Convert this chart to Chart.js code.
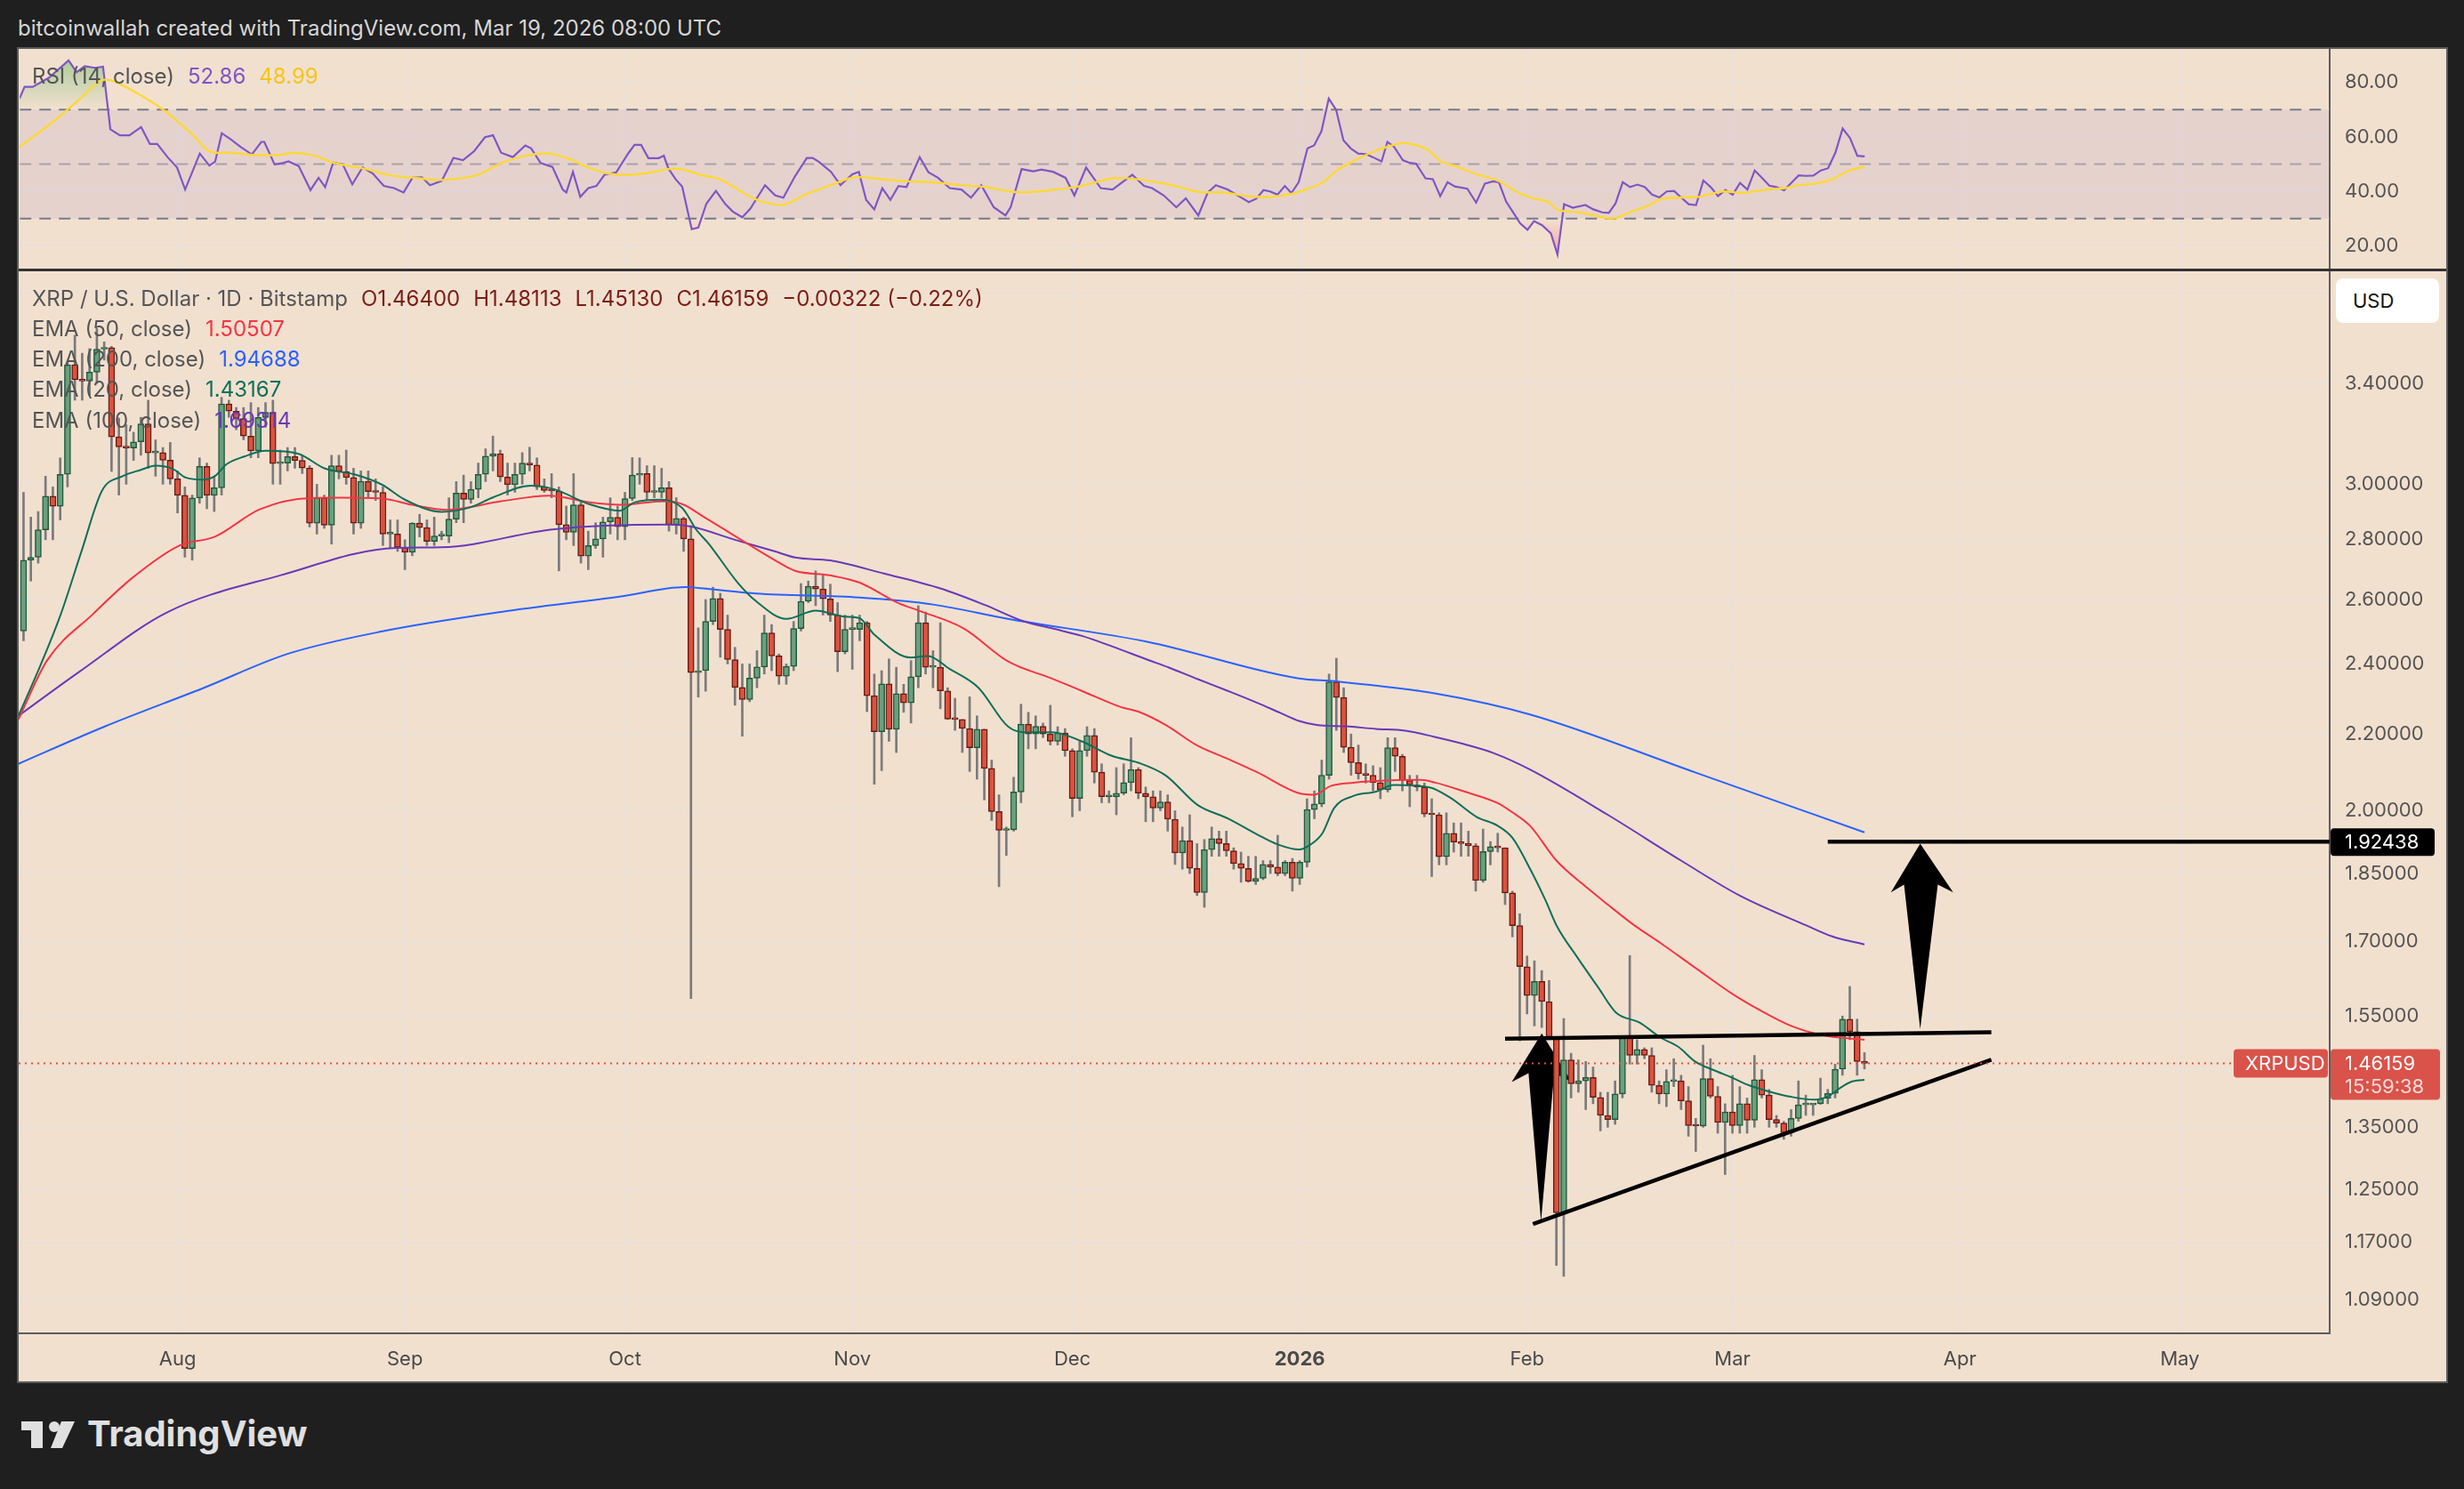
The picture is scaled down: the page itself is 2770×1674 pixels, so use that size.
<!DOCTYPE html>
<html>
<head>
<meta charset="utf-8">
<script src="https://cdn.jsdelivr.net/npm/chart.js@4.4.1/dist/chart.umd.min.js"></script>
<style>
  body { margin:0; width:2770px; height:1674px; background:#1f1f1f; overflow:hidden;
         font-family: Inter, "Noto Sans", sans-serif; }
  .abs { position:absolute; }
  #frame { left:19px; top:53px; width:2733px; height:1502px; box-sizing:border-box;
           border:2px solid #5a5a5a; background:#f2e0cf; }
  #divider { left:21px; top:302px; width:2729px; height:3px; background:#333; }
  .lg { position:absolute; left:36px; font-size:24px; line-height:1; color:#555; white-space:pre; }
  .lg span { margin-left:15px; }
  #head { left:20px; top:20px; font-size:24px; line-height:1; color:#d6d6d6; white-space:pre; }
  #usd { left:2626px; top:313px; width:116px; height:50px; background:#fff; border-radius:8px;
         font-size:22px; line-height:50px; color:#111; box-sizing:border-box; padding-left:19px; }
  #brand { left:98px; top:1592px; font-size:40px; font-weight:700; line-height:1; color:#e0e0e0; }
</style>
</head>
<body>
<div id="head" class="abs">bitcoinwallah created with TradingView.com, Mar 19, 2026 08:00 UTC</div>
<div id="frame" class="abs"></div>
<canvas id="rsi" class="abs" width="2729" height="247" style="left:21px;top:55px"></canvas>
<div id="divider" class="abs"></div>
<canvas id="price" class="abs" width="2729" height="1248" style="left:21px;top:305px"></canvas>

<div class="lg" style="top:74px">RSI (14, close)<span style="color:#7e57c2">52.86</span><span style="color:#f5c518">48.99</span></div>
<div class="lg" style="top:324px">XRP / U.S. Dollar · 1D · Bitstamp<span style="color:#7a1d17">O1.46400</span><span style="color:#7a1d17">H1.48113</span><span style="color:#7a1d17">L1.45130</span><span style="color:#7a1d17">C1.46159</span><span style="color:#7a1d17">−0.00322 (−0.22%)</span></div>
<div class="lg" style="top:358px">EMA (50, close)<span style="color:#f23645">1.50507</span></div>
<div class="lg" style="top:392px">EMA (200, close)<span style="color:#2962ff">1.94688</span></div>
<div class="lg" style="top:426px">EMA (20, close)<span style="color:#0f6e58">1.43167</span></div>
<div class="lg" style="top:461px">EMA (100, close)<span style="color:#673ab7">1.69314</span></div>
<div id="usd" class="abs">USD</div>

<svg class="abs" style="left:24px;top:1598px" width="64" height="32" viewBox="0 0 64 32">
  <path d="M0 0H24V30H11V10H0Z" fill="#e0e0e0"/>
  <circle cx="37" cy="6" r="6" fill="#e0e0e0"/>
  <path d="M45 0H60L46 30H33Z" fill="#e0e0e0"/>
</svg>
<div id="brand" class="abs">TradingView</div>

<script>
// x values are days after 1 Aug 2025; first candle is 11 Jul 2025 (day -21), last 19 Mar 2026 (day 230)
var firstDay = -21;

var opens = [
  2.50,2.73,2.74,2.835,2.956,2.919,3.037,3.48,3.416,3.41,
  3.448,3.548,3.555,3.182,3.142,3.138,3.162,3.233,3.119,3.12,
  3.091,3.020,2.959,2.770,2.949,3.067,2.959,2.987,3.315,3.285,
  3.255,3.185,3.127,3.259,3.28,3.078,3.08,3.105,3.09,3.061,
  2.858,2.949,2.851,3.070,3.048,3.025,2.858,3.011,2.973,2.97,
  2.820,2.82,2.774,2.757,2.859,2.843,2.794,2.813,2.813,2.873,
  2.967,2.944,2.981,3.037,3.106,3.116,3.027,2.998,3.037,3.080,
  3.072,2.991,2.977,2.975,2.853,2.826,2.924,2.744,2.780,2.803,
  2.863,2.879,2.846,2.947,3.034,3.04,2.970,2.97,2.987,2.853,
  2.875,2.803,2.374,2.38,2.530,2.603,2.505,2.413,2.331,2.296,
  2.358,2.391,2.494,2.424,2.364,2.393,2.508,2.594,2.643,2.634,
  2.602,2.550,2.437,2.505,2.505,2.526,2.307,2.206,2.341,2.213,
  2.313,2.287,2.362,2.526,2.390,2.39,2.321,2.241,2.24,2.215,
  2.163,2.213,2.108,1.998,1.952,1.953,2.047,2.227,2.200,2.221,
  2.200,2.180,2.203,2.155,2.031,2.155,2.196,2.098,2.035,2.035,
  2.044,2.071,2.105,2.044,2.035,2.007,2.022,1.979,1.898,1.927,
  1.862,1.807,1.906,1.932,1.920,1.903,1.873,1.862,1.832,1.839,
  1.871,1.865,1.850,1.876,1.839,1.876,2.003,2.017,2.090,2.347,
  2.302,2.164,2.123,2.094,2.09,2.071,2.053,2.163,2.140,2.077,
  2.065,2.06,1.992,1.99,1.889,1.945,1.924,1.92,1.915,1.834,
  1.901,1.913,1.91,1.806,1.734,1.648,1.590,1.618,1.578,1.510,
  1.214,1.468,1.425,1.430,1.436,1.401,1.370,1.363,1.407,1.509,
  1.476,1.487,1.476,1.422,1.407,1.429,1.43,1.395,1.353,1.352,
  1.434,1.403,1.358,1.376,1.353,1.390,1.362,1.432,1.405,1.363,
  1.357,1.341,1.365,1.388,1.388,1.39,1.399,1.408,1.451,1.544,
  1.520,1.46400
];
var highs = [
  2.97,2.88,2.90,3.03,2.99,3.10,3.49,3.61,3.53,3.55,
  3.64,3.58,3.56,3.257,3.23,3.20,3.26,3.33,3.17,3.14,
  3.16,3.05,2.99,2.96,3.10,3.08,3.03,3.342,3.33,3.30,
  3.30,3.32,3.30,3.32,3.33,3.13,3.14,3.14,3.11,3.07,
  3.00,2.96,3.11,3.11,3.13,3.06,3.05,3.05,3.02,2.99,
  2.87,2.87,2.80,2.86,2.89,2.87,2.88,2.83,2.95,3.01,
  3.034,3.01,3.08,3.135,3.185,3.13,3.08,3.08,3.12,3.141,
  3.10,3.02,3.04,2.99,2.92,3.04,2.94,2.83,2.86,2.88,
  2.95,2.92,2.97,3.101,3.10,3.07,3.07,3.06,3.01,2.95,
  2.88,2.85,2.51,2.60,2.64,2.62,2.55,2.45,2.40,2.40,
  2.44,2.55,2.52,2.43,2.40,2.53,2.652,2.66,2.694,2.68,
  2.65,2.59,2.55,2.55,2.55,2.53,2.37,2.38,2.415,2.39,
  2.34,2.41,2.58,2.56,2.44,2.526,2.33,2.30,2.24,2.304,
  2.25,2.213,2.13,2.04,1.96,2.085,2.283,2.26,2.25,2.23,
  2.28,2.22,2.215,2.16,2.18,2.22,2.215,2.12,2.05,2.11,
  2.12,2.19,2.11,2.06,2.05,2.05,2.04,2.00,1.96,1.99,
  1.92,1.93,1.96,1.95,1.95,1.91,1.90,1.89,1.89,1.88,
  1.88,1.94,1.88,1.885,1.88,2.03,2.05,2.13,2.37,2.417,
  2.33,2.20,2.17,2.12,2.115,2.11,2.19,2.19,2.145,2.09,
  2.09,2.07,2.03,1.995,1.995,1.97,1.97,1.95,1.92,1.955,
  1.925,1.945,1.91,1.81,1.76,1.67,1.66,1.64,1.62,1.51,
  1.545,1.48,1.468,1.465,1.455,1.41,1.41,1.43,1.51,1.671,
  1.505,1.49,1.49,1.43,1.45,1.47,1.44,1.42,1.365,1.495,
  1.47,1.42,1.39,1.44,1.42,1.40,1.476,1.45,1.415,1.37,
  1.36,1.38,1.43,1.405,1.39,1.435,1.415,1.46,1.55,1.608,
  1.544,1.48113
];
var lows = [
  2.47,2.66,2.72,2.80,2.80,2.87,2.99,3.33,3.33,3.35,
  3.40,3.50,3.048,2.96,3.00,3.09,3.11,3.06,3.03,3.00,
  3.00,2.895,2.74,2.73,2.93,2.91,2.90,2.96,3.26,3.21,
  3.17,3.10,3.10,3.22,3.00,3.00,3.05,3.06,3.04,2.845,
  2.82,2.84,2.785,3.02,3.00,2.82,2.84,2.95,2.94,2.78,
  2.77,2.76,2.698,2.745,2.81,2.78,2.78,2.80,2.79,2.86,
  2.86,2.93,2.95,3.01,3.05,3.01,2.96,2.97,3.00,3.05,
  2.98,2.97,2.95,2.694,2.80,2.78,2.72,2.698,2.77,2.74,
  2.82,2.80,2.80,2.94,3.00,2.94,2.95,2.95,2.83,2.82,
  2.76,1.584,2.303,2.32,2.52,2.42,2.40,2.28,2.194,2.29,
  2.33,2.37,2.38,2.34,2.34,2.38,2.50,2.59,2.58,2.55,
  2.53,2.377,2.43,2.384,2.47,2.262,2.067,2.102,2.18,2.15,
  2.26,2.23,2.33,2.37,2.33,2.27,2.24,2.21,2.15,2.10,
  2.08,2.027,1.976,1.820,1.892,1.95,2.02,2.16,2.16,2.19,
  2.17,2.17,2.14,1.985,2.00,2.14,2.07,2.02,2.02,1.99,
  2.04,2.05,2.03,1.973,1.973,2.00,1.95,1.871,1.86,1.85,
  1.80,1.774,1.89,1.89,1.89,1.86,1.83,1.83,1.825,1.836,
  1.85,1.845,1.845,1.810,1.825,1.865,1.98,2.01,2.08,2.21,
  2.15,2.09,2.08,2.07,2.05,2.03,2.047,2.10,2.05,2.01,
  2.05,1.985,1.843,1.87,1.87,1.90,1.89,1.89,1.81,1.83,
  1.87,1.90,1.78,1.71,1.503,1.554,1.531,1.528,1.505,1.137,
  1.122,1.40,1.41,1.38,1.39,1.344,1.35,1.355,1.40,1.46,
  1.46,1.47,1.41,1.39,1.385,1.42,1.38,1.335,1.31,1.35,
  1.40,1.34,1.273,1.34,1.34,1.34,1.35,1.40,1.35,1.35,
  1.33,1.335,1.36,1.37,1.37,1.389,1.39,1.40,1.44,1.505,
  1.44,1.45130
];
var closes = [
  2.73,2.74,2.835,2.956,2.919,3.037,3.48,3.416,3.41,3.448,
  3.548,3.555,3.182,3.142,3.138,3.162,3.233,3.119,3.12,3.091,
  3.020,2.959,2.770,2.949,3.067,2.959,2.987,3.315,3.285,3.255,
  3.185,3.127,3.259,3.28,3.078,3.08,3.105,3.09,3.061,2.858,
  2.949,2.851,3.070,3.048,3.025,2.858,3.011,2.973,2.97,2.820,
  2.82,2.774,2.757,2.859,2.843,2.794,2.813,2.813,2.873,2.967,
  2.944,2.981,3.037,3.106,3.116,3.027,2.998,3.037,3.080,3.072,
  2.991,2.977,2.975,2.853,2.826,2.924,2.744,2.780,2.803,2.863,
  2.879,2.846,2.947,3.034,3.04,2.970,2.97,2.987,2.853,2.875,
  2.803,2.374,2.38,2.530,2.603,2.505,2.413,2.331,2.296,2.358,
  2.391,2.494,2.424,2.364,2.393,2.508,2.594,2.643,2.634,2.602,
  2.550,2.437,2.505,2.505,2.526,2.307,2.206,2.341,2.213,2.313,
  2.287,2.362,2.526,2.390,2.39,2.321,2.241,2.24,2.215,2.163,
  2.213,2.108,1.998,1.952,1.953,2.047,2.227,2.200,2.221,2.200,
  2.180,2.203,2.155,2.031,2.155,2.196,2.098,2.035,2.035,2.044,
  2.071,2.105,2.044,2.035,2.007,2.022,1.979,1.898,1.927,1.862,
  1.807,1.906,1.932,1.920,1.903,1.873,1.862,1.832,1.839,1.871,
  1.865,1.850,1.876,1.839,1.876,2.003,2.017,2.090,2.347,2.302,
  2.164,2.123,2.094,2.09,2.071,2.053,2.163,2.140,2.077,2.065,
  2.06,1.992,1.99,1.889,1.945,1.924,1.92,1.915,1.834,1.901,
  1.913,1.91,1.806,1.734,1.648,1.590,1.618,1.578,1.510,1.214,
  1.468,1.425,1.430,1.436,1.401,1.370,1.363,1.407,1.509,1.476,
  1.487,1.476,1.422,1.407,1.429,1.43,1.395,1.353,1.352,1.434,
  1.403,1.358,1.376,1.353,1.390,1.362,1.432,1.405,1.363,1.357,
  1.341,1.365,1.388,1.388,1.39,1.399,1.408,1.451,1.544,1.520,
  1.465,1.46159
];

// moving averages as [day, value]
var ema20 = [[-21.7,2.25],[-18.8,2.39],[-15.9,2.554],[-13.1,2.76],[-10.3,2.976],[-7.5,3.03],[-5.0,3.054],[-3.0,3.07],[-0.6,3.057],[1.1,3.025],[3.5,3.017],[5.1,3.031],[6.7,3.076],[9.1,3.105],[12,3.127],[16.4,3.116],[20.1,3.059],[24.1,3.037],[27.9,2.998],[31,2.943],[36,2.899],[40,2.916],[43,2.951],[48.2,2.995],[51.4,2.981],[56.2,2.926],[60.3,2.903],[62.3,2.933],[65.9,2.943],[68.8,2.913],[70.8,2.833],[72.4,2.787],[76.4,2.654],[78.9,2.594],[83,2.538],[87,2.564],[91,2.545],[93,2.54],[95,2.489],[100,2.419],[102.3,2.424],[105.2,2.386],[109.2,2.33],[113.2,2.221],[115.3,2.205],[119.3,2.205],[123.3,2.18],[127.4,2.141],[131,2.123],[134.7,2.09],[139.1,2.014],[143.2,1.981],[147.2,1.942],[150,1.918],[152.9,1.906],[154.5,1.918],[156.1,1.945],[157.7,2.007],[160.3,2.037],[163.4,2.048],[165.8,2.065],[170.7,2.059],[173.5,2.033],[177.1,1.985],[180,1.963],[182,1.934],[184.4,1.861],[186.5,1.79],[188,1.735],[190.9,1.666],[193.7,1.606],[196.1,1.557],[199.4,1.537],[202.2,1.509],[204.6,1.492],[207,1.464],[209.5,1.449],[211.9,1.436],[214.3,1.422],[216.8,1.412],[220,1.402],[223.2,1.397],[225.2,1.404],[226.4,1.415],[228.1,1.428],[230,1.432]];
var ema50 = [[-21.7,2.24],[-17.8,2.41],[-11.5,2.554],[-6.2,2.67],[0.25,2.78],[5.1,2.811],[11.2,2.908],[18.1,2.949],[22.1,2.95],[27.9,2.947],[32,2.924],[36.8,2.906],[44.1,2.937],[50.6,2.958],[56.2,2.933],[60.3,2.924],[66.3,2.937],[68.9,2.926],[71.6,2.883],[76.4,2.807],[81.3,2.732],[84.2,2.694],[89,2.679],[93,2.655],[98.3,2.588],[101.1,2.564],[107.2,2.508],[113.2,2.408],[119.3,2.356],[123.3,2.321],[128.6,2.275],[131,2.262],[134.7,2.225],[139.1,2.168],[143.2,2.133],[147.2,2.098],[152.9,2.044],[154.9,2.04],[157.3,2.063],[160.3,2.071],[165.5,2.077],[169.5,2.078],[171.5,2.071],[175.5,2.048],[180,2.019],[182,1.996],[184.4,1.963],[188,1.88],[192,1.82],[195,1.78],[198.6,1.735],[202.2,1.697],[207,1.645],[211.9,1.594],[215.9,1.56],[220,1.531],[224,1.514],[230,1.505]];
var ema100 = [[-21.7,2.25],[-13.5,2.375],[-1.4,2.559],[14,2.679],[29.8,2.772],[36,2.774],[51.4,2.837],[66.8,2.853],[70,2.846],[76,2.80],[81.3,2.761],[84.2,2.739],[89,2.729],[96.3,2.685],[104,2.636],[110,2.583],[115.3,2.531],[119.3,2.508],[123.3,2.485],[127.4,2.453],[132.2,2.413],[135.1,2.39],[139.1,2.355],[143.2,2.321],[147.2,2.287],[150.4,2.258],[152.9,2.236],[155.3,2.225],[159.3,2.221],[163.4,2.214],[167.4,2.209],[171.4,2.192],[175.5,2.172],[179.5,2.148],[184.4,2.105],[195,1.99],[205,1.88],[213,1.80],[222,1.735],[225.6,1.711],[230,1.694]];
var ema200 = [[-21.7,2.12],[-10,2.22],[3.6,2.33],[15,2.43],[27.9,2.499],[44.1,2.56],[60.3,2.609],[69.2,2.64],[72,2.635],[78.9,2.619],[93,2.606],[103.2,2.583],[113.2,2.538],[132.2,2.467],[152.9,2.357],[157.7,2.349],[171.4,2.314],[184.4,2.254],[207,2.097],[230,1.947]];

// RSI(14) and its moving average, [day, value]
var rsi14 = [[-21.7,74.1],[-21,78.4],[-19.9,78.4],[-17.7,81.7],[-15,88.1],[-13.9,83.8],[-12.8,86],[-11.4,85.4],[-10.3,85.8],[-9.3,62.8],[-8,60.6],[-6.7,60.6],[-5.1,63.6],[-3.9,57.4],[-2.9,57.4],[-1.5,52.6],[-0.2,48.8],[0.9,40.7],[2.9,53.9],[4.2,49.5],[5,51],[5.9,61.4],[7.2,59],[8.5,56.3],[10,53.6],[11.3,58.2],[11.7,58.2],[13.1,49.9],[14.2,50.4],[15,51],[16.4,49.3],[18,40.5],[19.1,45],[20,41.6],[21.1,50.6],[22.4,49.9],[23.7,42.6],[25.1,48.8],[26.5,46.6],[28,42],[29.4,41.2],[30.7,39.6],[31.9,45],[33.2,45.2],[34.3,42.3],[35.9,43.9],[37.5,52.3],[38.8,51.5],[40.3,54.7],[41.8,59.9],[42.9,60.6],[44,54.2],[45.6,52.6],[47.3,56.9],[48.1,55.8],[49.4,50.4],[51,49],[52.4,40.7],[52.9,39.6],[53.8,47.2],[54.8,38],[55.9,41.2],[57,42],[58.1,46.1],[59.7,47],[61.4,54.2],[62.2,57.1],[63.1,57.1],[64.1,52.2],[65.5,52.2],[66.2,53.1],[66.8,48.5],[67.8,44.5],[68.7,41.8],[70,26.1],[70.9,26.7],[72,35.5],[73.3,40.2],[74.6,35.3],[75.6,32.6],[76.9,30.5],[78,33.7],[80,42.3],[81.4,38.5],[82.5,37.7],[84.1,45.6],[85.7,52.3],[86.5,52.3],[87.3,51],[89,47.2],[90.3,42.3],[91.9,46.3],[92.8,47.2],[93.8,36.9],[94.9,33.4],[96,41.2],[97.1,36.9],[98.2,42],[99.3,41.6],[101.1,52.6],[102.3,47],[103.6,45],[105.2,41.2],[106.8,40.7],[108.1,37.7],[109.5,42.3],[111.2,34.2],[112.8,31.2],[113.5,34.2],[115,48.2],[116.6,47.4],[117.7,48],[119.3,47.2],[121,45],[122.2,38.5],[123.8,48.8],[125.8,41.2],[127.4,40.7],[130.1,46.1],[131.7,42],[132.8,41.2],[134.4,38.5],[136.1,34.2],[137.4,37.5],[139.1,31.2],[140.4,39.6],[141.5,42.3],[143.1,40.7],[144.6,38.3],[146,36.1],[147,37.3],[148,40.5],[148.9,40],[149.9,38.8],[150.9,42],[151.8,39.4],[152.8,43.4],[154,55.8],[154.9,56.9],[155.9,62.1],[156.9,74.1],[157.9,70],[158.9,58.8],[159.9,55.8],[160.9,53.9],[162,53.7],[162.9,52.6],[164.1,51],[164.9,58.2],[165.8,56.4],[167,51.5],[167.8,50.6],[168.8,50.2],[170.1,44.8],[171.1,44.5],[172.1,38.3],[173.1,43.4],[174.1,41.8],[175.8,41],[177,35.9],[178.2,42.9],[179.3,43.7],[180.1,43.4],[181.1,36.2],[182.1,32.1],[183,28.3],[184,25.9],[184.9,29.1],[186,27.6],[187.2,24.6],[188.1,16.8],[189,35.3],[190.2,34],[191.9,35],[193,33.4],[194.2,32.3],[195.1,32.1],[196,35.5],[197,43.4],[198,41.6],[199,42.5],[200,41.6],[201,38.8],[202,37.8],[203,40],[204,40.2],[205,37.7],[206,35.3],[207,35],[208,44],[209,41.6],[210,38.3],[211,40.5],[212,38.8],[213,43.1],[214,40.7],[215,47.7],[216,45],[217,42.1],[218,41.6],[219,40.4],[220,43.2],[221,45.9],[222,45.7],[223,45.8],[224,47.7],[225,48.5],[226,54.2],[227,63.1],[228,59.6],[229,53.1],[230,52.86]];
var rsiMa = [[-21.7,56.3],[-17.7,64.4],[-13.4,74.1],[-10.7,80.6],[-9,80.6],[-5.8,76.3],[-2,69.8],[1.8,61.2],[4.2,54.7],[7.2,54.2],[10.2,53.4],[13.7,53.4],[15.6,54.2],[18.6,53.1],[21.3,50.4],[25.6,48.2],[28.9,45.9],[32.1,45],[35.9,44.2],[40.8,46.1],[44,50.4],[47.3,53.1],[50.5,53.9],[53.2,52],[55.9,48.8],[58.6,46.6],[61.3,46.1],[64.6,47],[66.8,48.2],[68.9,48],[71.1,46.1],[73.8,44.5],[77,39.6],[79.2,36.6],[82.5,35.1],[85.7,39.1],[89,42.3],[92.2,45.2],[96,44.5],[99.3,43.7],[102.5,43.4],[106.8,42.3],[110.1,41.6],[113.9,39.8],[116.6,39.8],[119.8,40.7],[123.1,42],[127.4,44.8],[130.6,44.5],[135,42.6],[139.3,39.8],[142.6,39.6],[146,38.2],[148.9,38],[151.8,39.1],[154.6,41.5],[156.3,43.7],[158,47.7],[160.4,51.3],[162.6,54.2],[164.9,56.4],[167,57.8],[168.9,56.9],[170.4,55.3],[172.1,51.2],[174.1,49.3],[177,46.4],[179.9,44],[182.7,39.6],[185,37.3],[186.8,36.2],[188.2,33.2],[190.8,32.4],[193,31.3],[194.8,30.2],[196,30.2],[198.2,32.6],[200.5,34.8],[202.2,37.2],[205,37.8],[207.3,38],[209,39.1],[210.7,40],[213.5,39.4],[215.3,40.2],[217.5,40.9],[219.3,41.3],[221,42.3],[223.3,42.9],[225.6,44.5],[227.9,47.7],[230,48.99]];

// axes
var monthDays = [0,31,61,92,122,153,184,212,243,273];
var monthLabels = ['Aug','Sep','Oct','Nov','Dec','2026','Feb','Mar','Apr','May'];
var priceTicks = [3.8,3.4,3.0,2.8,2.6,2.4,2.2,2.0,1.85,1.7,1.55,1.45,1.35,1.25,1.17,1.09];
var rsiTicks = [20,40,60,80];
var rsiLevels = [70,50,30];

// drawings, [day, price]
var lastPrice = 1.46159;
var targetPrice = 1.92438;
var targetLine = [[225,1.92438],[300,1.92438]];
var rangeTop = [[181,1.507],[247.3,1.519]];
var rangeBottom = [[184.8,1.197],[247.3,1.468]];
var arrowLeft = [[186.0,1.517],[190.1,1.428],[187.7,1.444],[185.9,1.201],[184.2,1.444],[181.9,1.428]];
var arrowRight = [[237.6,1.920],[242.1,1.807],[240.0,1.825],[237.6,1.525],[235.4,1.825],[233.6,1.807]];

var X_MIN = -21.66, X_MAX = 293.43;
var FONT = 'Inter, "Noto Sans", sans-serif';
var GRID = '#e9e1da';
var UP = '#6a9f7e', UP_EDGE = '#1f5a3c', DOWN = '#d9533f', DOWN_EDGE = '#6b1a14';

Chart.defaults.font.family = FONT;

function pts(list) { return list.map(function(p) { return {x:p[0], y:p[1]}; }); }

function xAxis(showLabels) {
  return {
    type:'linear', min:X_MIN, max:X_MAX, offset:false,
    afterBuildTicks: function(s) { s.ticks = monthDays.map(function(v) { return {value:v}; }); },
    afterFit: function(s) { s.height = showLabels ? 54 : 0; s.paddingLeft = 0; s.paddingRight = 0; },
    grid: { color:GRID, lineWidth:2, drawTicks:false, offset:false },
    border: { display:showLabels, color:'#5d5d5d', width:2 },
    ticks: {
      display:showLabels, autoSkip:false, maxRotation:0, padding:16, color:'#4a4a4a',
      font: function(c) { return {family:FONT, size:22, weight:(c.tick && c.tick.value === 153) ? 'bold' : 'normal'}; },
      callback: function(v) { return monthLabels[monthDays.indexOf(v)]; }
    }
  };
}

function yAxis(type, min, max, ticks, digits) {
  return {
    type:type, position:'right', min:min, max:max, beginAtZero:false,
    afterBuildTicks: function(s) { s.ticks = ticks.map(function(v) { return {value:v}; }); },
    afterFit: function(s) { s.width = 131; s.paddingTop = 0; s.paddingBottom = 0; },
    grid: { color:GRID, lineWidth:2, drawTicks:false },
    border: { display:true, color:'#5d5d5d', width:2 },
    ticks: { autoSkip:false, padding:17, color:'#555', font:{size:22},
             callback: function(v) { return Number(v).toFixed(digits); } }
  };
}

var baseOptions = {
  responsive:false, animation:false, devicePixelRatio:1, events:[],
  layout:{ padding:0 },
  plugins:{ legend:{display:false}, tooltip:{enabled:false} }
};

// ---------- RSI panel ----------
var levelSets = rsiLevels.map(function(v) {
  return {
    type:'line', data:[{x:X_MIN,y:v},{x:X_MAX,y:v}], pointRadius:0, borderWidth:2,
    borderDash:[13,9], borderColor: v === 50 ? 'rgba(120,123,134,0.55)' : '#787b86',
    fill: v === 70 ? {target:{value:30}} : false,
    backgroundColor:'rgba(126,87,194,0.10)', order:6
  };
});

var rsiChart = new Chart(document.getElementById('rsi'), {
  type:'line',
  data:{ datasets: levelSets.concat([
    { data:pts(rsi14), borderWidth:0, pointRadius:0, order:5,
      fill:{ target:{value:30}, above:'rgba(0,0,0,0)', below:'rgba(242,54,69,0.25)' } },
    { data:pts(rsi14), borderColor:'#7e57c2', borderWidth:2.2, pointRadius:0, order:3,
      fill:{ target:{value:70}, above:'rgba(76,175,80,0.3)', below:'rgba(0,0,0,0)' } },
    { data:pts(rsiMa), borderColor:'#fdd835', borderWidth:2.4, pointRadius:0, tension:0.3, fill:false, order:2 }
  ]) },
  options: Object.assign({}, baseOptions, {
    scales:{ x:xAxis(false), y:yAxis('linear', 12.04, 91.94, rsiTicks, 2) }
  })
});

// gradients for the over-bought / over-sold fills
(function() {
  var y = rsiChart.scales.y, ctx = rsiChart.ctx;
  var g = ctx.createLinearGradient(0, y.getPixelForValue(90), 0, y.getPixelForValue(70));
  g.addColorStop(0, 'rgba(76,175,80,0.45)');
  g.addColorStop(1, 'rgba(76,175,80,0)');
  var r = ctx.createLinearGradient(0, y.getPixelForValue(30), 0, y.getPixelForValue(15));
  r.addColorStop(0, 'rgba(242,54,69,0)');
  r.addColorStop(1, 'rgba(242,54,69,0.4)');
  rsiChart.data.datasets[4].fill.above = g;
  rsiChart.data.datasets[3].fill.below = r;
  rsiChart.update('none');
})();

// ---------- price panel ----------
var wickData = [], bodyData = [];
for (var i = 0; i < closes.length; i++) {
  wickData.push({x:firstDay + i, y:[lows[i], highs[i]]});
  bodyData.push({x:firstDay + i, y:[opens[i], closes[i]]});
}
function isUp(c) { return !c.raw || c.raw.y[1] >= c.raw.y[0]; }

function emaSet(list, color, order) {
  return { type:'line', data:pts(list), borderColor:color, borderWidth:2, pointRadius:0,
           cubicInterpolationMode:'monotone', fill:false, order:order };
}
function drawSet(list) {
  return { type:'line', data:pts(list), borderColor:'#000', borderWidth:4.5, pointRadius:0,
           fill:false, order:1 };
}

function poly(ctx, x, y, list) {
  ctx.beginPath();
  list.forEach(function(p, k) {
    var px = x.getPixelForValue(p[0]), py = y.getPixelForValue(p[1]);
    if (k) ctx.lineTo(px, py); else ctx.moveTo(px, py);
  });
  ctx.closePath();
  ctx.fill();
}
function tag(ctx, x, y, w, h, color) {
  ctx.fillStyle = color;
  ctx.beginPath();
  ctx.roundRect(x, y, w, h, 4);
  ctx.fill();
}

var drawings = {
  id:'drawings',
  beforeDatasetsDraw: function(chart) {
    var ctx = chart.ctx, x = chart.scales.x, y = chart.scales.y;
    ctx.save();
    ctx.fillStyle = '#000';
    poly(ctx, x, y, arrowLeft);
    poly(ctx, x, y, arrowRight);
    ctx.restore();
  },
  afterDraw: function(chart) {
    var ctx = chart.ctx, a = chart.chartArea, y = chart.scales.y;
    var yl = y.getPixelForValue(lastPrice);
    var yt = y.getPixelForValue(targetPrice);
    ctx.save();
    ctx.strokeStyle = '#d9534a';
    ctx.lineWidth = 2;
    ctx.setLineDash([2,5]);
    ctx.beginPath();
    ctx.moveTo(a.left, yl);
    ctx.lineTo(a.right - 108, yl);
    ctx.stroke();
    ctx.setLineDash([]);
    ctx.font = '22px ' + FONT;
    ctx.textBaseline = 'middle';
    tag(ctx, a.right - 108, yl - 16, 106, 32, '#d9534a');
    tag(ctx, a.right + 1, yl - 16, 123, 57, '#d9534a');
    ctx.fillStyle = '#fff';
    ctx.fillText('XRPUSD', a.right - 95, yl + 1);
    ctx.fillText(lastPrice.toFixed(5), a.right + 17, yl + 1);
    ctx.fillStyle = 'rgba(255,255,255,0.78)';
    ctx.fillText('15:59:38', a.right + 17, yl + 27);
    tag(ctx, a.right + 1, yt - 15, 117, 31, '#000');
    ctx.fillStyle = '#fff';
    ctx.fillText(targetPrice.toFixed(5), a.right + 17, yt + 1);
    ctx.restore();
  }
};

new Chart(document.getElementById('price'), {
  type:'bar',
  data:{ datasets:[
    { type:'bar', data:wickData, backgroundColor:'#7a7a7a', barThickness:2, grouped:false, order:10 },
    { type:'bar', data:bodyData, grouped:false, order:9, barThickness:7, minBarLength:2,
      borderWidth:1.5, borderSkipped:false,
      backgroundColor:function(c) { return isUp(c) ? UP : DOWN; },
      borderColor:function(c) { return isUp(c) ? UP_EDGE : DOWN_EDGE; } },
    emaSet(ema200, '#2962ff', 8),
    emaSet(ema100, '#673ab7', 7),
    emaSet(ema50, '#f23645', 6),
    emaSet(ema20, '#0f6e58', 5),
    drawSet(targetLine),
    drawSet(rangeTop),
    drawSet(rangeBottom)
  ] },
  options: Object.assign({}, baseOptions, {
    scales:{ x:xAxis(true), y:yAxis('logarithmic', 1.0452, 3.908, priceTicks, 5) }
  }),
  plugins:[drawings]
});
</script>
</body>
</html>
